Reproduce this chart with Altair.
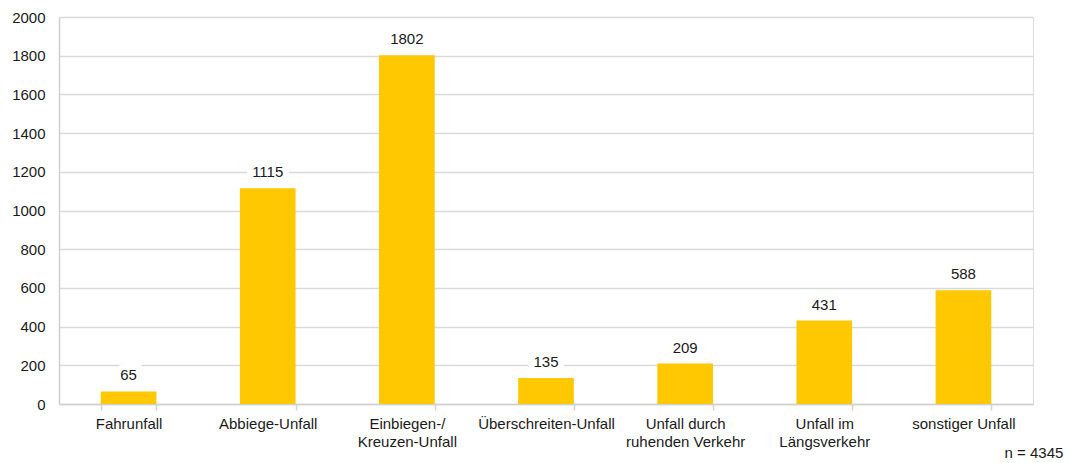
import altair as alt
import pandas as pd

categories = ["Fahrunfall", "Abbiege-Unfall", "Einbiegen-/|Kreuzen-Unfall",
              "Überschreiten-Unfall", "Unfall durch|ruhenden Verkehr",
              "Unfall im|Längsverkehr", "sonstiger Unfall"]
values = [65, 1115, 1802, 135, 209, 431, 588]
y_ticks = list(range(0, 2001, 200))
note = "n = 4345"

df = pd.DataFrame({"cat": categories, "val": values})

FONT = "Liberation Sans"
x_enc = alt.X("cat:N", sort=categories, title=None,
              scale=alt.Scale(paddingInner=0.6, paddingOuter=0.3),
              axis=alt.Axis(labelExpr="datum.value ? split(datum.value, '|') : ''",
                            labelAngle=0,
                            labelFont=FONT, labelFontSize=15, labelColor="#1a1a1a",
                            labelLineHeight=18, labelBaseline="top", labelPadding=6,
                            tickBand="extent", tickSize=6, tickColor="#d0d0d0",
                            domainColor="#d0d0d0", domainWidth=1.5, tickWidth=1.5,
                            grid=False, labelOverlap=False))
y_enc = alt.Y("val:Q", title=None,
              scale=alt.Scale(domain=[0, 2000], nice=False),
              axis=alt.Axis(values=y_ticks, format="d", labelFont=FONT, labelFontSize=15,
                            labelColor="#1a1a1a", ticks=False, labelPadding=14,
                            labelOverlap=False,
                            domainColor="#d0d0d0", domainWidth=1.5,
                            gridColor="#d9d9d9", gridWidth=1.5))

base = alt.Chart(df)
bars = base.mark_bar(color="#FFC800").encode(x=x_enc, y=y_enc)
halo = base.mark_text(font=FONT, fontSize=15, dy=-11, baseline="alphabetic",
                      stroke="white", strokeWidth=12, fill="white").encode(
    x=x_enc, y=y_enc, text="val:Q")
labels = base.mark_text(font=FONT, fontSize=15, dy=-11, baseline="alphabetic",
                        color="#1a1a1a").encode(
    x=x_enc, y=y_enc, text="val:Q")
n_text = alt.Chart(pd.DataFrame({"t": [note]})).mark_text(
    font=FONT, fontSize=15, color="#1a1a1a", align="center", baseline="middle").encode(
    x=alt.value(975), y=alt.value(49 + 387), text="t:N")

chart = alt.layer(bars, halo, labels, n_text).properties(
    width=974, height=387,
    autosize=alt.AutoSizeParams(type="none"),
    padding={"left": 59, "top": 17, "right": 37, "bottom": 59},
).configure_view(stroke=None).configure(background="white")

chart.save("out.html", embed_options={"renderer": "svg", "actions": False})
